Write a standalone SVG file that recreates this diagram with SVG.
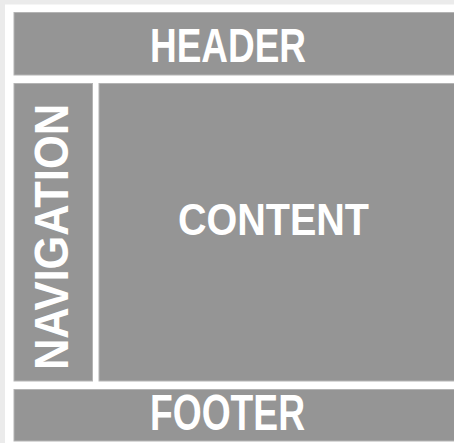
<svg xmlns="http://www.w3.org/2000/svg" width="454" height="443" viewBox="0 0 454 443">
  <style>
    .box { fill: #959595; stroke: #b4b4b4; stroke-width: 1; }
    .label { font-family: "Liberation Sans", Arial, sans-serif; font-weight: bold; fill: #ffffff; text-anchor: middle; }
  </style>
  <!-- page backdrop -->
  <rect x="0" y="0" width="454" height="443" fill="#ebebeb"/>
  <rect x="5" y="4.5" width="449" height="438.5" fill="#ffffff"/>

  <g id="header">
    <rect class="box" x="14" y="12.5" width="441" height="62.5"/>
    <text class="label" x="228" y="62" font-size="48" textLength="156" lengthAdjust="spacingAndGlyphs">HEADER</text>
  </g>

  <g id="navigation">
    <rect class="box" x="14" y="83.5" width="78.5" height="297.5"/>
    <text class="label" x="0" y="0" font-size="48" textLength="266" lengthAdjust="spacingAndGlyphs" transform="translate(67.5,237) rotate(-90)">NAVIGATION</text>
  </g>

  <g id="content">
    <rect class="box" x="99" y="83.5" width="356" height="297.5"/>
    <text class="label" x="273.5" y="235" font-size="44" textLength="191" lengthAdjust="spacingAndGlyphs">CONTENT</text>
  </g>

  <g id="footer">
    <rect class="box" x="14" y="389.5" width="441" height="51.5"/>
    <text class="label" x="227.5" y="430" font-size="50" textLength="155" lengthAdjust="spacingAndGlyphs">FOOTER</text>
  </g>

  <g id="connectors"/>
</svg>
